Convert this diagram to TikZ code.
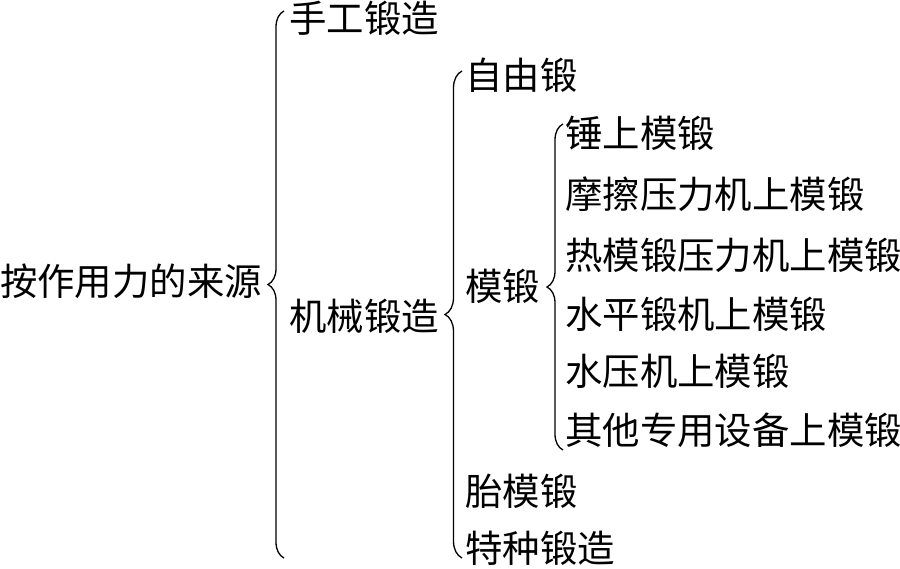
\documentclass[tikz,border=0pt]{standalone}
\usepackage{fontspec}
\newfontfamily\cjk{Noto Sans CJK SC}
\usetikzlibrary{decorations.pathreplacing}
\tikzset{
  lbl/.style={anchor=west,inner sep=0pt,yshift=-9pt,font=\cjk\fontsize{37.4}{40}\selectfont,text height=0.82em,text depth=0.12em},
  brc/.style={decorate,line width=1.3pt,decoration={brace,amplitude=#1}}
}
\begin{document}
\begin{tikzpicture}[x=1pt,y=-1pt]
\useasboundingbox (0,0) rectangle (900,569);
\node[lbl] (root) at (0,283) {按作用力的来源};
\node[lbl] (sg) at (289,20) {手工锻造};
\node[lbl] (jx) at (289,318) {机械锻造};
\node[lbl] (zy) at (465,77) {自由锻};
\node[lbl] (md) at (465,288) {模锻};
\node[lbl] (tm) at (465,493) {胎模锻};
\node[lbl] (tz) at (465,550) {特种锻造};
\node[lbl] (m1) at (565,135) {锤上模锻};
\node[lbl] (m2) at (565,196) {摩擦压力机上模锻};
\node[lbl] (m3) at (565,257) {热模锻压力机上模锻};
\node[lbl] (m4) at (565,316) {水平锻机上模锻};
\node[lbl] (m5) at (565,373) {水压机上模锻};
\node[lbl] (m6) at (565,432) {其他专用设备上模锻};
\coordinate (b1t) at (284,11);
\coordinate (b1b) at (284,558);
\coordinate (b2t) at (462,71);
\coordinate (b2b) at (462,558);
\coordinate (b3t) at (563,124);
\coordinate (b3b) at (563,450);
\draw[brc=16pt] (b1b) -- (b1t);
\draw[brc=17pt] (b2b) -- (b2t);
\draw[brc=16pt] (b3b) -- (b3t);
\end{tikzpicture}
\end{document}
